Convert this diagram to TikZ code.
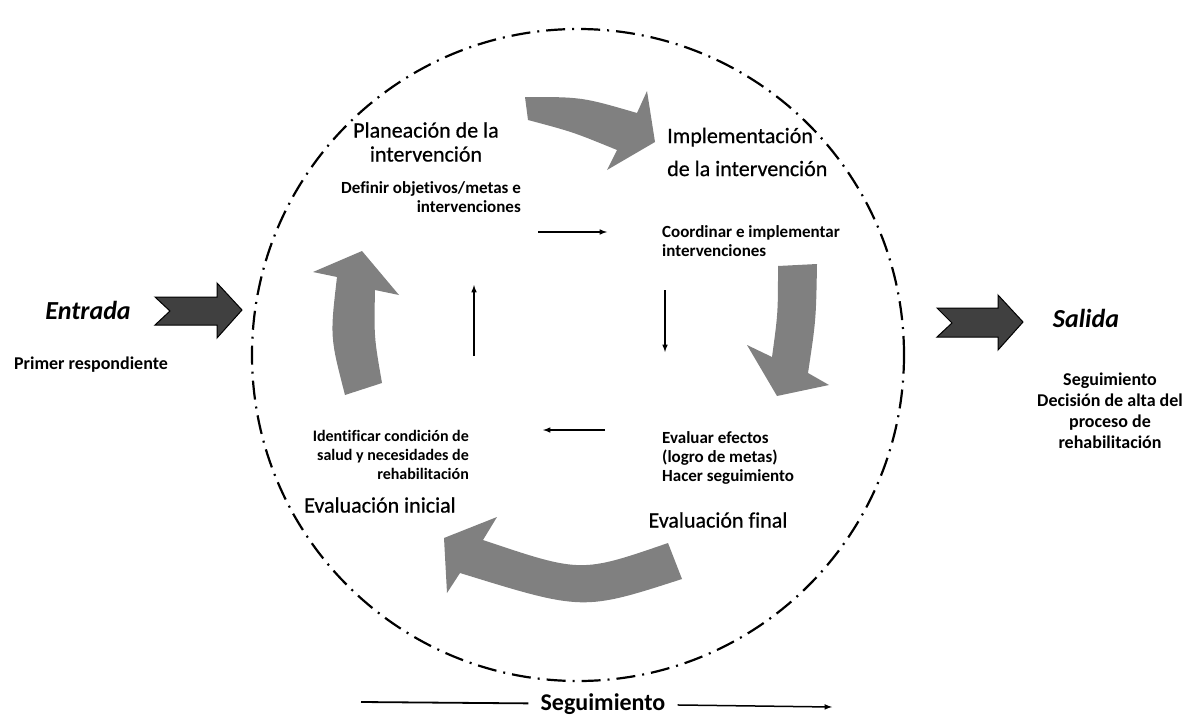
\documentclass[tikz,border=0pt]{standalone}
\usepackage{fontspec}
\setmainfont{Carlito}[Ligatures=NoCommon]
\newfontfamily\stagefont{Carlito}[Ligatures=NoCommon,FakeBold=0.6]
\usepackage{tikz}
\definecolor{mygray}{RGB}{128,128,128}
\definecolor{mydarkgray}{RGB}{64,64,64}
\usetikzlibrary{arrows,positioning}
\tikzstyle{stage}=[align=center,inner sep=0pt,font=\fontsize{22}{24}\stagefont]
\tikzstyle{task}=[inner sep=0pt,font=\fontsize{17}{19}\selectfont\bfseries]
\tikzstyle{side}=[inner sep=0pt,font=\fontsize{26}{30}\selectfont\bfseries\itshape]
\tikzstyle{flow}=[fill=mygray,draw=none]
\tikzstyle{io}=[fill=mydarkgray,draw=black,line width=1pt]
\tikzstyle{cue}=[->,line width=1.5pt]

\begin{document}
\begin{tikzpicture}[x=1pt,y=-1pt,>=latex]
\useasboundingbox (0,0) rectangle (1188,717);
\draw[line width=2.2pt,dash pattern=on 19pt off 7pt on 2pt off 7pt] (578,355) circle [radius=326pt];
\fill[flow] (525,97) .. controls (582,97) .. (637,113) -- (647,91) -- (655,142) -- (607,170) -- (617,150) .. controls (573,132) .. (528,120) -- cycle;
\fill[flow] (778,266) -- (817,264) .. controls (816,320) .. (808,373) -- (829,385) -- (777,396) -- (747,345) -- (772,357) .. controls (778,313) .. (778,266) -- cycle;
\fill[flow] (668,543) -- (682,579) .. controls (583,611) .. (460,573) -- (447,593) -- (444,538) -- (497,517) -- (483,540) .. controls (581,573) .. (668,543) -- cycle;
\fill[flow] (345,395) -- (382,383) .. controls (374,337) .. (375,290) -- (399,295) -- (362,251) -- (313,272) -- (337,277) .. controls (330,337) .. (345,395) -- cycle;
\draw[io] (155,297) -- (217,297) -- (217,283) -- (242,310) -- (217,338) -- (217,325) -- (155,325) -- (170,311) -- cycle;
\draw[io] (937,308) -- (998,308) -- (998,295) -- (1023,322) -- (998,350) -- (998,337) -- (937,337) -- (952,323) -- cycle;
\draw (426,142) node [stage] (plan) {Planeación de la\\intervención};
\draw (521,197) node [task,align=right,anchor=east] (defin) {Definir objetivos/metas e\\intervenciones};
\draw (667,152) node [stage,align=left,anchor=west,font=\fontsize{22}{33}\stagefont] (impl) {Implementación\\de la intervención};
\draw (662,241) node [task,align=left,anchor=west] (coord) {Coordinar e implementar\\intervenciones};
\draw (662,458) node [task,align=left,anchor=west] (evalu) {Evaluar efectos\\(logro de metas)\\Hacer seguimiento};
\draw (718,520) node [stage] (final) {Evaluación final};
\draw (469,455) node [task,align=right,anchor=east,font=\fontsize{16}{19}\selectfont\bfseries] (ident) {Identificar condición de\\salud y necesidades de\\rehabilitación};
\draw (380,505) node [stage] (inicial) {Evaluación inicial};
\draw (88,310) node [side] (entrada) {Entrada};
\draw (91,365) node [task,font=\fontsize{18}{20}\selectfont\bfseries] (primer) {Primer respondiente};
\draw (1086,318) node [side] (salida) {Salida};
\draw (1110,411) node [task,align=center,font=\fontsize{18}{21}\selectfont\bfseries] (alta) {Seguimiento\\Decisión de alta del\\proceso de\\rehabilitación};
\draw (603,704) node [task,inner xsep=12pt,font=\fontsize{24}{26}\selectfont\bfseries] (seg) {Seguimiento};
\coordinate (segL) at (361,702);
\coordinate (segR) at (832,707);
\coordinate (r1) at (538,232);
\coordinate (r2) at (607,232);
\coordinate (d1) at (665,290);
\coordinate (d2) at (665,352);
\coordinate (l1) at (605,430);
\coordinate (l2) at (543,430);
\coordinate (u1) at (474,356);
\coordinate (u2) at (474,285);
\draw[cue] (r1) -- (r2);
\draw[cue] (d1) -- (d2);
\draw[cue] (l1) -- (l2);
\draw[cue] (u1) -- (u2);
\draw[line width=1.8pt] (segL) -- (seg);
\draw[cue] (seg) -- (segR);
\end{tikzpicture}
\end{document}
